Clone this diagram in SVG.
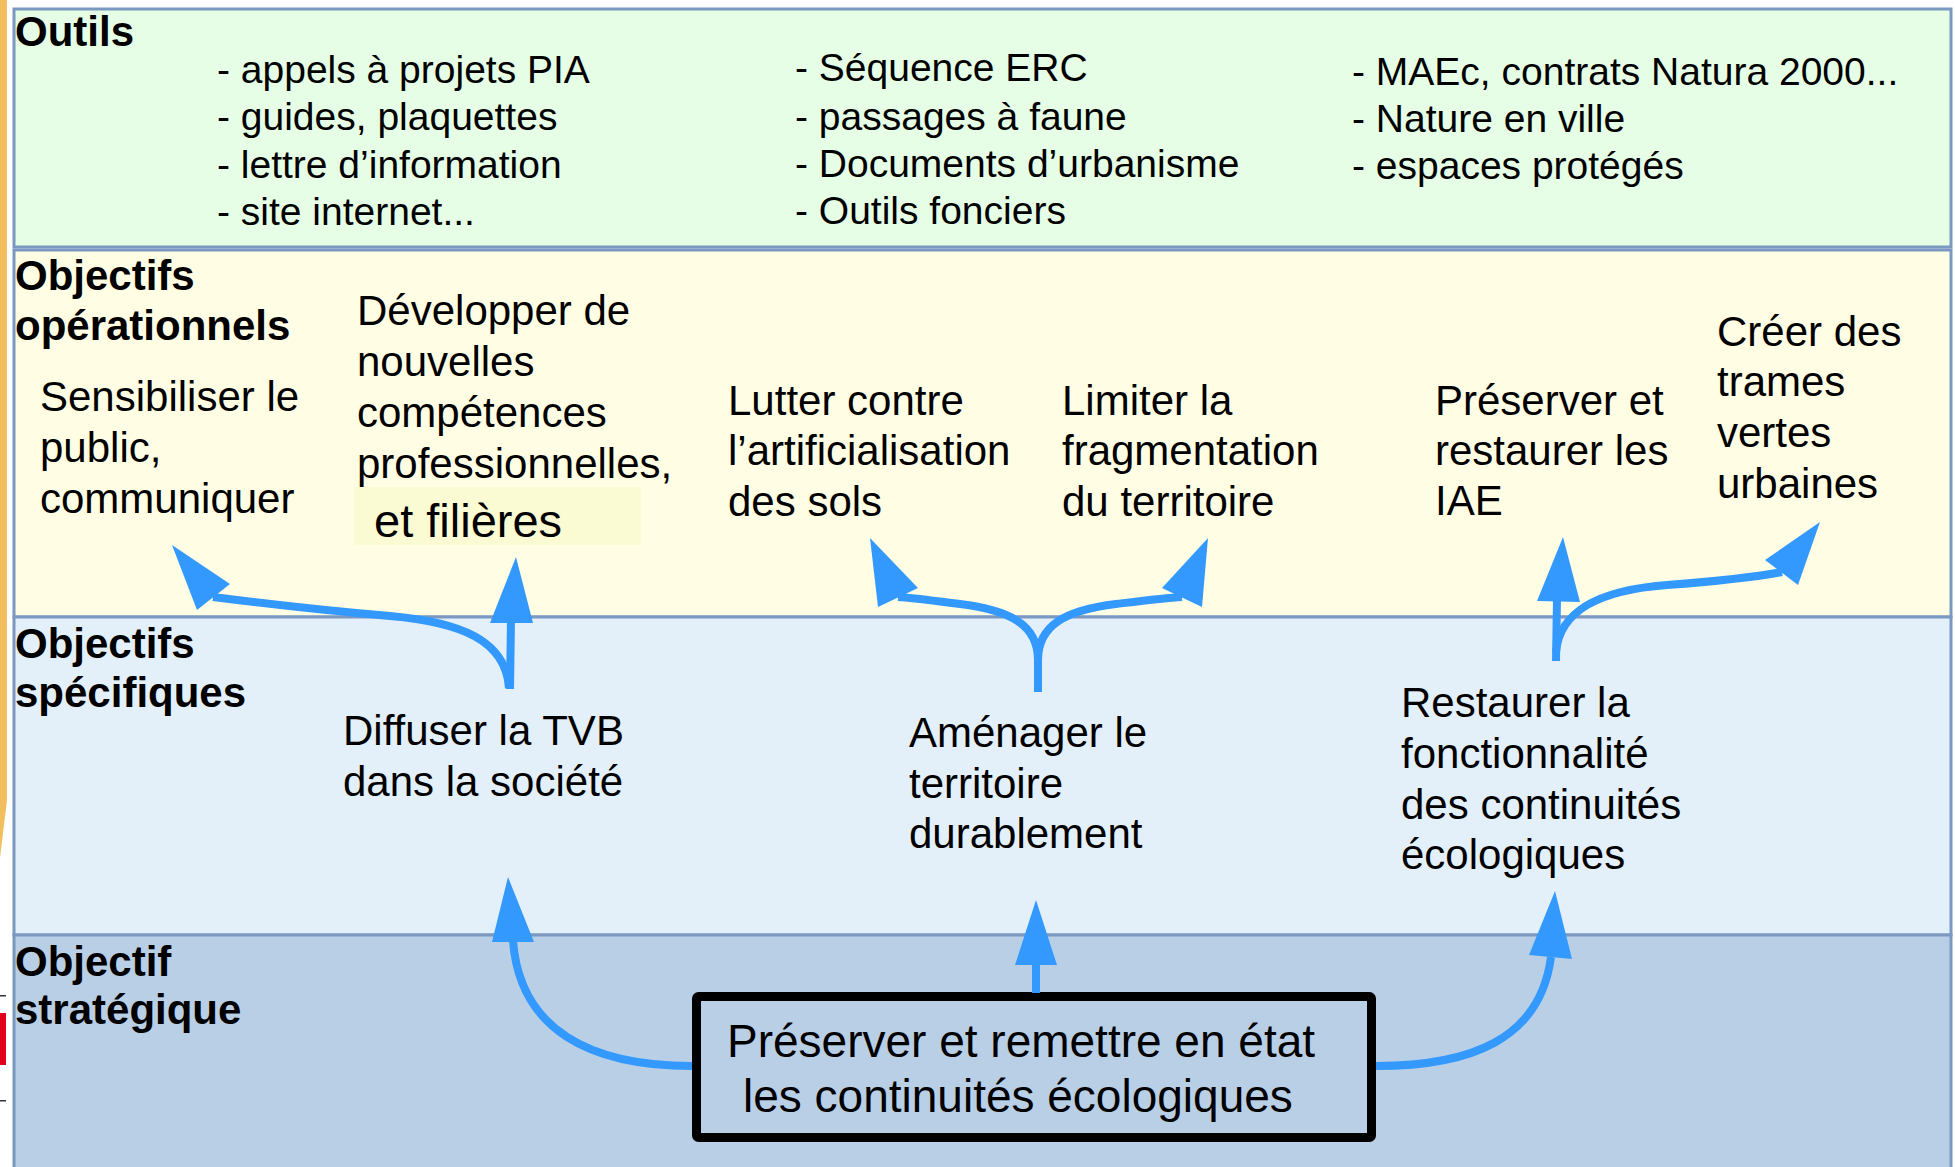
<svg xmlns="http://www.w3.org/2000/svg" width="1955" height="1167" viewBox="0 0 1955 1167">
<style>
.band{stroke:#7b98c0;stroke-width:3}
.lbl{font-family:"Liberation Sans",Arial,sans-serif;font-weight:bold;font-size:42px;fill:#000}
.txt{font-family:"Liberation Sans",Arial,sans-serif;font-size:42px;fill:#000}
.tool{font-family:"Liberation Sans",Arial,sans-serif;font-size:39px;fill:#000}
.big{font-family:"Liberation Sans",Arial,sans-serif;font-size:46px;fill:#000}
.conn{fill:none;stroke:#3399ff;stroke-width:8}
.ah{fill:#3399ff}
</style>
<rect x="0" y="0" width="1955" height="1167" fill="#ffffff"/>
<g id="edge-artifacts">
<polygon points="0,0 7,0 7,800 0,858" fill="#f2be5e"/>
<rect x="0" y="995" width="6" height="1.5" fill="#333"/>
<rect x="0" y="1013" width="6" height="52" fill="#e2001a"/>
<rect x="0" y="1100" width="6" height="1.5" fill="#333"/>
</g>
<g id="bands">
<rect id="band-outils" class="band" x="14" y="9" width="1937" height="238" fill="#e5fee5"/>
<rect id="band-operationnels" class="band" x="14" y="250" width="1937" height="367" fill="#fffee4"/>
<rect id="band-specifiques" class="band" x="14" y="617" width="1937" height="318" fill="#e3f0fa"/>
<rect id="band-strategique" class="band" x="14" y="935" width="1937" height="240" fill="#b9cfe6"/>
</g>
<g id="labels">
<text class="lbl" x="15" y="46">Outils</text>
<text class="lbl" x="15" y="290">Objectifs<tspan x="15" y="340">opérationnels</tspan></text>
<text class="lbl" x="15" y="658">Objectifs<tspan x="15" y="707">spécifiques</tspan></text>
<text class="lbl" x="15" y="976">Objectif<tspan x="15" y="1024">stratégique</tspan></text>
</g>
<g id="outils-col1">
<text class="tool" x="217" y="83">- appels à projets PIA</text>
<text class="tool" x="217" y="130">- guides, plaquettes</text>
<text class="tool" x="217" y="178">- lettre d’information</text>
<text class="tool" x="217" y="225">- site internet...</text>
</g>
<g id="outils-col2">
<text class="tool" x="795" y="81">- Séquence ERC</text>
<text class="tool" x="795" y="130">- passages à faune</text>
<text class="tool" x="795" y="177">- Documents d’urbanisme</text>
<text class="tool" x="795" y="224">- Outils fonciers</text>
</g>
<g id="outils-col3">
<text class="tool" x="1352" y="85">- MAEc, contrats Natura 2000...</text>
<text class="tool" x="1352" y="132">- Nature en ville</text>
<text class="tool" x="1352" y="179">- espaces protégés</text>
</g>
<g id="op-sensibiliser">
<text class="txt" x="40" y="411">Sensibiliser le<tspan x="40" y="462">public,</tspan><tspan x="40" y="513">communiquer</tspan></text>
</g>
<g id="op-developper">
<text class="txt" x="357" y="325">Développer de<tspan x="357" y="376">nouvelles</tspan><tspan x="357" y="427">compétences</tspan><tspan x="357" y="478">professionnelles,</tspan></text>
<rect x="354" y="487" width="287" height="58" fill="#fbfbd3"/>
<text class="txt" x="374" y="537" style="font-size:47px">et filières</text>
</g>
<g id="op-lutter">
<text class="txt" x="728" y="415">Lutter contre<tspan x="728" y="465">l’artificialisation</tspan><tspan x="728" y="516">des sols</tspan></text>
</g>
<g id="op-limiter">
<text class="txt" x="1062" y="415">Limiter la<tspan x="1062" y="465">fragmentation</tspan><tspan x="1062" y="516">du territoire</tspan></text>
</g>
<g id="op-preserver">
<text class="txt" x="1435" y="415">Préserver et<tspan x="1435" y="465">restaurer les</tspan><tspan x="1435" y="515">IAE</tspan></text>
</g>
<g id="op-creer">
<text class="txt" x="1717" y="346">Créer des<tspan x="1717" y="396">trames</tspan><tspan x="1717" y="447">vertes</tspan><tspan x="1717" y="498">urbaines</tspan></text>
</g>
<g id="sp-diffuser">
<text class="txt" x="343" y="745">Diffuser la TVB<tspan x="343" y="796">dans la société</tspan></text>
</g>
<g id="sp-amenager">
<text class="txt" x="909" y="747">Aménager le<tspan x="909" y="798">territoire</tspan><tspan x="909" y="848">durablement</tspan></text>
</g>
<g id="sp-restaurer">
<text class="txt" x="1401" y="717">Restaurer la<tspan x="1401" y="768">fonctionnalité</tspan><tspan x="1401" y="819">des continuités</tspan><tspan x="1401" y="869">écologiques</tspan></text>
</g>
<g id="strategique">
<rect x="696.5" y="996.5" width="675" height="141" rx="2" fill="#b9cfe6" stroke="#000" stroke-width="9"/>
<text class="big" x="727" y="1057">Préserver et remettre en état</text>
<text class="big" x="743" y="1112">les continuités écologiques</text>
</g>
<g id="connectors">
<path class="conn" d="M692 1066 C590 1066 520 1030 513 941"/>
<polygon class="ah" points="508,877 534,942 492,942"/>
<path class="conn" d="M1036 993 L1036 960"/>
<polygon class="ah" points="1036,900 1057,965 1015,965"/>
<path class="conn" d="M1376 1066 C1470 1066 1540 1040 1551 957"/>
<polygon class="ah" points="1555,891 1572,959 1529,955"/>
<path class="conn" d="M510 689 L511 618"/>
<polygon class="ah" points="516,557 533,623 490,623"/>
<path class="conn" d="M509 688 C506 640 460 622 390 616 C330 611 260 603 213 597"/>
<polygon class="ah" points="172,545 230,584 197,610"/>
<path class="conn" d="M1038 692 L1038 660 C1038 625 1010 610 960 604 C935 601 915 598 898 597"/>
<polygon class="ah" points="870,538 918,588 878,607"/>
<path class="conn" d="M1038 660 C1038 625 1066 610 1116 604 C1141 601 1165 598 1182 597"/>
<polygon class="ah" points="1208,538 1202,607 1162,588"/>
<path class="conn" d="M1556 661 L1557 598"/>
<polygon class="ah" points="1563,537 1580,602 1537,601"/>
<path class="conn" d="M1556 652 C1560 610 1600 590 1667 585 C1720 581 1750 578 1782 572"/>
<polygon class="ah" points="1820,522 1798,585 1765,560"/>
</g>
</svg>
